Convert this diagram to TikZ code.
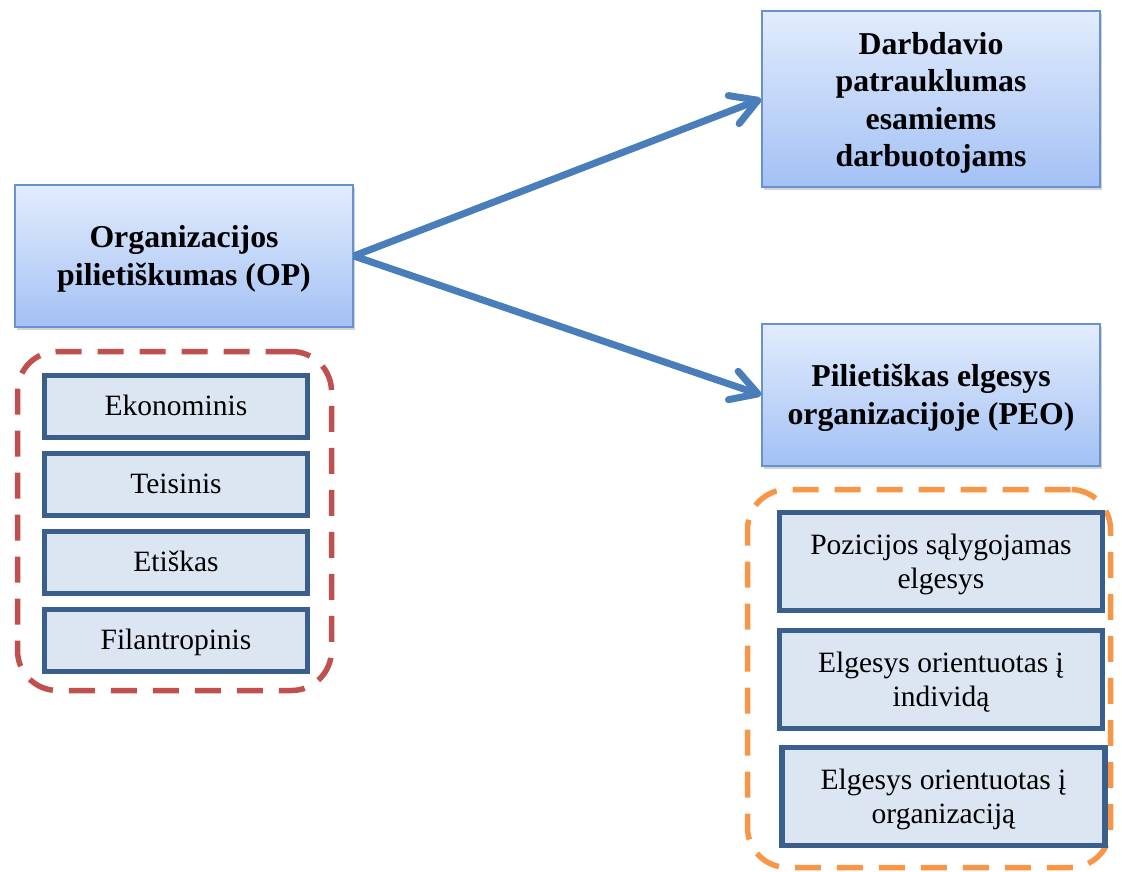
\documentclass[tikz,border=0pt]{standalone}
\usepackage{fontspec}
\setmainfont{Liberation Serif}
\usetikzlibrary{arrows.meta,shadows}
\definecolor{boxtop}{RGB}{226,236,252}
\definecolor{boxbot}{RGB}{163,193,245}
\definecolor{boxline}{RGB}{104,146,206}
\definecolor{itemfill}{RGB}{220,230,242}
\definecolor{itemline}{RGB}{58,95,139}
\definecolor{redgrp}{RGB}{192,80,77}
\definecolor{orangegrp}{RGB}{247,150,70}
\definecolor{arrowblue}{RGB}{74,126,187}
% lower a centred label a little without changing the node size
\newcommand{\droplines}[2]{\raisebox{-#1}[\height][\depth]{\begin{tabular}{@{}c@{}}#2\end{tabular}}}
\begin{document}
\begin{tikzpicture}[x=1pt,y=-1pt,
  mainbox/.style={draw=boxline, line width=1.5pt, top color=boxtop, bottom color=boxbot,
    drop shadow={shadow xshift=2pt, shadow yshift=-3pt, opacity=0.35},
    inner sep=0pt, minimum width=338pt,
    font=\fontsize{31.8}{37.5}\selectfont\bfseries},
  itembox/.style={draw=itemline, line width=5.5pt, fill=itemfill, inner sep=0pt,
    font=\fontsize{29.5}{34}\selectfont},
  leftitem/.style={itembox, minimum width=263pt, minimum height=62pt},
  rightitem/.style={itembox, minimum width=323pt, minimum height=98pt},
  groupbox/.style={line width=5.5pt, rounded corners=40pt, dash pattern=on 26pt off 16pt, inner sep=0pt},
  link/.style={draw=arrowblue, line width=7pt,
    -{Straight Barb[length=26pt, width=30pt, round]}}
]
\useasboundingbox (0,0) rectangle (1122,872);

% dashed group frames
\node[groupbox, draw=redgrp, minimum width=314pt, minimum height=339pt] (grpL) at (174.5,521) {};
\node[groupbox, draw=orangegrp, minimum width=363pt, minimum height=378pt] (grpR) at (929,678.5) {};

% main concept boxes
\node[mainbox, minimum height=142pt] (op) at (184,256) {\droplines{3pt}{Organizacijos\\pilietiškumas (OP)}};
\node[mainbox, minimum height=176pt] (dar) at (931,99) {\droplines{4pt}{Darbdavio\\patrauklumas\\esamiems\\darbuotojams}};
\node[mainbox, minimum height=142pt] (peo) at (931,395) {\droplines{3pt}{Pilietiškas elgesys\\organizacijoje (PEO)}};

% dimensions of OP
\node[leftitem] (e1) at (176,406.5) {\droplines{2pt}{Ekonominis}};
\node[leftitem] (e2) at (176,484.5) {\droplines{2pt}{Teisinis}};
\node[leftitem] (e3) at (176,562.5) {\droplines{2pt}{Etiškas}};
\node[leftitem] (e4) at (176,640.5) {\droplines{2pt}{Filantropinis}};

% forms of PEO
\node[rightitem] (p1) at (941,561.5) {\droplines{3pt}{Pozicijos sąlygojamas\\elgesys}};
\node[rightitem] (p2) at (941,679.5) {\droplines{3pt}{Elgesys orientuotas į\\individą}};
\node[rightitem] (p3) at (943.5,796.5) {\droplines{3pt}{Elgesys orientuotas į\\organizaciją}};

% links
\draw[link] (op.east) -- (dar.west);
\draw[link] (op.east) -- (peo.west);
\end{tikzpicture}
\end{document}
